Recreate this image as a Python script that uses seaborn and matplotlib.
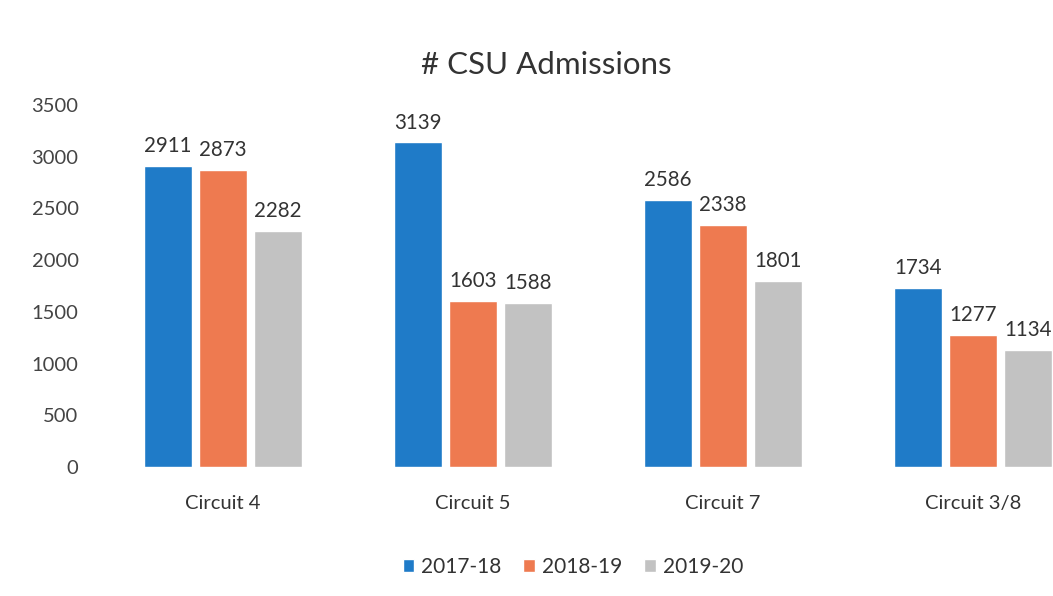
import pandas as pd
import matplotlib
matplotlib.use("Agg")
import matplotlib.pyplot as plt
import seaborn as sns

############### Chart data
circuits = ["Circuit 4", "Circuit 5", "Circuit 7", "Circuit 3/8"]
years = ["2017-18", "2018-19", "2019-20"]
admissions_2017_18 = [2911, 3139, 2586, 1734]
admissions_2018_19 = [2873, 1603, 2338, 1277]
admissions_2019_20 = [2282, 1588, 1801, 1134]
y_ticks = [0, 500, 1000, 1500, 2000, 2500, 3000, 3500]

colors = ["#1f7bc8", "#ee7a50", "#c2c2c2"]

############### Build long table for seaborn
rows = []
for year, values in zip(years, [admissions_2017_18, admissions_2018_19, admissions_2019_20]):
    for circuit, v in zip(circuits, values):
        rows.append({"circuit": circuit, "year": year, "admissions": v})
df = pd.DataFrame(rows)

sns.set_style("white")
plt.rcParams["font.family"] = ["Lato", "DejaVu Sans"]

fig = plt.figure(figsize=(10.53, 5.96), dpi=100)
# plot area runs past the right edge like the cropped original
ax = fig.add_axes([98 / 1053, 1 - 467 / 596, 1000 / 1053, 362 / 596])

sns.barplot(
    data=df, x="circuit", y="admissions", hue="year",
    palette=colors, width=0.66, gap=0.14, ax=ax, saturation=1,
)

for container in ax.containers:
    ax.bar_label(container, fmt="%d", padding=7, fontsize=14.8, color="#333333")

ax.set_ylim(0, 3500)
ax.set_yticks(y_ticks)
ax.set_xlim(-0.5, 3.5)
ax.set_xlabel("")
ax.set_ylabel("")
ax.tick_params(axis="y", labelsize=14.5, colors="#444444", pad=14, length=0)
ax.tick_params(axis="x", labelsize=14.5, colors="#333333", pad=20, length=0)
sns.despine(ax=ax, left=True, bottom=True)

ax.legend(
    loc="center", bbox_to_anchor=(573 / 1053, 1 - 567 / 596),
    bbox_transform=fig.transFigure, ncol=3, frameon=False,
    fontsize=15, handlelength=0.55, handleheight=0.55,
    handletextpad=0.35, columnspacing=1.05, labelcolor="#333333",
)

fig.text(546 / 1053, 1 - 65 / 596, "# CSU Admissions", ha="center", va="center",
         fontsize=22.5, color="#333333")

fig.savefig("out.png", dpi=100)
